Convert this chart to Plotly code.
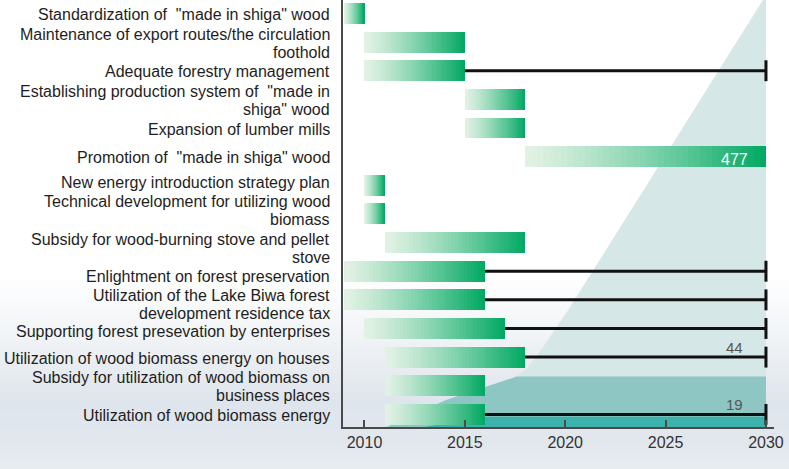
import plotly.graph_objects as go
import numpy as np

# ---------------- data ----------------
tasks = [
    'Standardization of  "made in shiga" wood',
    'Maintenance of export routes/the circulation\nfoothold',
    'Adequate forestry management',
    'Establishing production system of  "made in\nshiga" wood',
    'Expansion of lumber mills',
    'Promotion of  "made in shiga" wood',
    'New energy introduction strategy plan',
    'Technical development for utilizing wood\nbiomass',
    'Subsidy for wood-burning stove and pellet\nstove',
    'Enlightment on forest preservation',
    'Utilization of the Lake Biwa forest\ndevelopment residence tax',
    'Supporting forest presevation by enterprises',
    'Utilization of wood biomass energy on houses',
    'Subsidy for utilization of wood biomass on\nbusiness places',
    'Utilization of wood biomass energy',
]
start_year = [2009, 2010, 2010, 2015, 2015, 2018, 2010, 2010, 2011, 2009, 2009, 2010, 2011, 2011, 2011]
end_year = [2010, 2015, 2015, 2018, 2018, 2030, 2011, 2011, 2018, 2016, 2016, 2017, 2018, 2016, 2016]
continue_to = [None, None, 2030, None, None, None, None, None, None, 2030, 2030, 2030, 2030, None, 2030]
value_labels = ['', '', '', '', '', '477', '', '', '', '', '', '', '44', '', '19']

# background area layers (index scale 0-100)
light_years = [2017.5, 2017.58, 2018.08, 2018.91, 2020.15, 2029.85, 2030.0]
light_vals = [0, 11.8, 13.7, 18.8, 27.4, 100, 100]
medium_years = [2011.1, 2014.06, 2017.58, 2030.0]
medium_vals = [0, 6.3, 11.8, 11.8]
dark_years = [2013.0, 2016.0, 2030.0]
dark_vals = [0, 2.4, 2.4]

x_ticks = [2010, 2015, 2020, 2025, 2030]

# ---------------- style ----------------
W, H = 789, 469
ML, MR, MT, MB = 343, 15, 0, 42
PW, PH = W - ML - MR, H - MT - MB
AXC = '#4a4a4a'
TXT = '#1e1e1e'
FONT = 'Liberation Sans, Arial, sans-serif'
PALE = np.array([226, 242, 229])
GREEN = np.array([0, 168, 98])
NSEG = 40
BAR_W = 0.73
LABEL_SIZE = 16
LINE_GAP = 18
# small vertical nudges (px, positive = up) so stacked label lines never collide
NUDGE = {6: 4, 7: 4.5, 8: -4.5, 9: -4, 10: -3.5, 11: -2.5}

rows = list(range(len(tasks)))

fig = go.Figure()

# area layers
for xs, ys, col in [(light_years, light_vals, '#d5e7e7'),
                    (medium_years, medium_vals, '#8dc6c2'),
                    (dark_years, dark_vals, '#3db1ab')]:
    fig.add_trace(go.Scatter(x=xs, y=ys, fill='tozeroy', mode='none',
                             fillcolor=col, hoverinfo='skip', showlegend=False,
                             xaxis='x', yaxis='y'))

# gradient bars: successive overlapping segments
for i in range(NSEG):
    t = (i + 0.5) / NSEG
    tt = t ** 1.25
    c = PALE + (GREEN - PALE) * tt
    color = 'rgb(%d,%d,%d)' % tuple(int(round(v)) for v in c)
    bases = [s + (e - s) * i / NSEG for s, e in zip(start_year, end_year)]
    widths = [e - b for b, e in zip(bases, end_year)]
    fig.add_trace(go.Bar(orientation='h', y=rows, x=widths, base=bases,
                         width=BAR_W, marker=dict(color=color, line=dict(width=0)),
                         hoverinfo='skip', showlegend=False,
                         xaxis='x', yaxis='y2'))

# continuation lines with end caps
lx, ly = [], []
for r, e, c in zip(rows, end_year, continue_to):
    if c is None:
        continue
    lx += [e, c, None, c, c, None]
    ly += [r, r, None, r - BAR_W / 2, r + BAR_W / 2, None]
fig.add_trace(go.Scatter(x=lx, y=ly, mode='lines', line=dict(color='#111111', width=3),
                         hoverinfo='skip', showlegend=False, xaxis='x', yaxis='y2'))

annotations = []
# task labels (right aligned)
for r, label in zip(rows, tasks):
    lines = label.split('\n')
    n = len(lines)
    for k, ln in enumerate(lines):
        off = ((n - 1) / 2 - k) * LINE_GAP - 1 + NUDGE.get(r, 0)
        annotations.append(dict(text=ln, xref='paper', x=0, xshift=-11, xanchor='right',
                                yref='y2', y=r, yanchor='middle', yshift=off,
                                showarrow=False, font=dict(family=FONT, size=LABEL_SIZE, color=TXT)))

# value labels
for r, v, c in zip(rows, value_labels, continue_to):
    if not v:
        continue
    if c is None:  # inside the bar
        annotations.append(dict(text=v, xref='x', x=2028.45, yref='y2', y=r,
                                yanchor='middle', yshift=-3, showarrow=False,
                                font=dict(family=FONT, size=16, color='white')))
    else:
        annotations.append(dict(text=v, xref='x', x=2028.45, yref='y2', y=r,
                                yanchor='middle', yshift=10, showarrow=False,
                                font=dict(family=FONT, size=15, color='#555555')))

# background gradient bands (paper coords)
stops = [(0, (255, 255, 255)), (275, (255, 255, 255)), (340, (240, 243, 246)),
         (400, (223, 229, 236)), (440, (225, 231, 237)), (469, (232, 236, 241))]
shapes = []
x0p, x1p = -ML / PW, (W - ML) / PW
step = 3
for py in range(270, H, step):
    pm = py + step / 2
    for (a, ca), (b, cb) in zip(stops[:-1], stops[1:]):
        if a <= pm <= b:
            f = (pm - a) / (b - a)
            col = tuple(int(round(ca[j] + (cb[j] - ca[j]) * f)) for j in range(3))
            break
    shapes.append(dict(type='rect', xref='paper', yref='paper', layer='below',
                       x0=x0p, x1=x1p, y0=(H - MB - py - step - 0.5) / PH,
                       y1=(H - MB - py) / PH, line=dict(width=0),
                       fillcolor='rgb(%d,%d,%d)' % col))

fig.update_layout(
    width=W, height=H,
    margin=dict(l=ML, r=MR, t=MT, b=MB),
    paper_bgcolor='white', plot_bgcolor='rgba(0,0,0,0)',
    barmode='overlay', bargap=0,
    showlegend=False,
    font=dict(family=FONT, color=TXT),
    xaxis=dict(range=[2008.93, 2030.4], tickvals=x_ticks, ticks='inside', ticklen=7,
               tickwidth=2, tickcolor=AXC, showline=True, linecolor=AXC, linewidth=2,
               showgrid=False, zeroline=False, tickfont=dict(family=FONT, size=16, color='#333333')),
    yaxis=dict(range=[0, 100], showline=True, linecolor=AXC, linewidth=2, ticks='',
               showticklabels=False, showgrid=False, zeroline=False, fixedrange=True),
    yaxis2=dict(range=[14.44, -0.47], overlaying='y', visible=False, showgrid=False,
                zeroline=False),
    annotations=annotations,
    shapes=shapes,
)

fig.write_html('out.html')
